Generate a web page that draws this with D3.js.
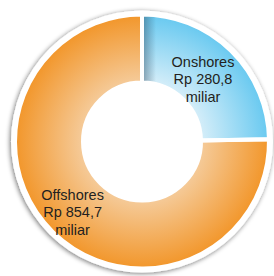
<!DOCTYPE html>
<html>
<head>
<meta charset="utf-8">
<script src="https://cdn.jsdelivr.net/npm/d3@7"></script>
<style>
  html, body { margin:0; padding:0; background:#fff; }
  svg { display:block; }
  text { font-family: "Liberation Sans", Arial, Helvetica, sans-serif; fill:#231f20; }
</style>
</head>
<body>
<div id="chart"></div>
<script>
// data
const categories = ["Onshores", "Offshores"];
const values = [280.8, 854.7];
const valueLabels = ["Rp 280,8", "Rp 854,7"];
const unitLabel = "miliar";

const width = 274, height = 276;
const cx = 142, cy = 141.5;
const rOuter = 127, rInner = 59;

// colour pairs: [near hole, outer rim]
const colors = {
  Onshores:  ["#d6eef9", "#68c9f0"],
  Offshores: ["#f5cb9a", "#f2962a"]
};

const svg = d3.select("#chart").append("svg")
  .attr("width", width).attr("height", height);

const defs = svg.append("defs");

const shadow = defs.append("filter").attr("id", "shadow")
  .attr("x", "-20%").attr("y", "-20%").attr("width", "140%").attr("height", "140%");
shadow.append("feGaussianBlur").attr("in", "SourceAlpha").attr("stdDeviation", 2.5).attr("result", "b");
shadow.append("feOffset").attr("in", "b").attr("dx", -1).attr("dy", 1).attr("result", "o");
shadow.append("feComponentTransfer").attr("in", "o").attr("result", "s")
  .append("feFuncA").attr("type", "linear").attr("slope", 0.55);
const merge = shadow.append("feMerge");
merge.append("feMergeNode").attr("in", "s");
merge.append("feMergeNode").attr("in", "SourceGraphic");

// gradients live in the translated group's space, so centre is 0,0
categories.forEach(c => {
  const g = defs.append("radialGradient")
    .attr("id", "grad-" + c)
    .attr("gradientUnits", "userSpaceOnUse")
    .attr("cx", 0).attr("cy", 0).attr("r", rOuter);
  g.append("stop").attr("offset", rInner / rOuter).attr("stop-color", colors[c][0]);
  g.append("stop").attr("offset", 1).attr("stop-color", colors[c][1]);
});

// dark edge inside the blue slice
const edge = defs.append("linearGradient").attr("id", "edge")
  .attr("gradientUnits", "userSpaceOnUse")
  .attr("x1", 0).attr("y1", 0).attr("x2", 14).attr("y2", 0);
edge.append("stop").attr("offset", 0).attr("stop-color", "#2d4a60").attr("stop-opacity", 0.5);
edge.append("stop").attr("offset", 1).attr("stop-color", "#2d4a60").attr("stop-opacity", 0);

// white disc with soft grey shadow behind the ring
svg.append("circle")
  .attr("cx", cx).attr("cy", cy).attr("r", rOuter + 4)
  .attr("fill", "#fff")
  .attr("filter", "url(#shadow)");

const pie = d3.pie().sort(null).value(d => d.value);
const rows = categories.map((c, i) => ({ name: c, value: values[i], label: valueLabels[i] }));
const arcs = pie(rows);

const arc = d3.arc().innerRadius(rInner).outerRadius(rOuter);

const g = svg.append("g").attr("transform", `translate(${cx},${cy})`);

g.selectAll("path.slice")
  .data(arcs)
  .join("path")
  .attr("class", "slice")
  .attr("d", arc)
  .attr("fill", d => `url(#grad-${d.data.name})`);

// inner shading along the left edge of the onshore slice
defs.append("clipPath").attr("id", "clipOn")
  .append("path")
  .attr("d", arc(arcs[0]));
g.append("rect")
  .attr("x", 0).attr("y", -rOuter).attr("width", 20).attr("height", rOuter)
  .attr("fill", "url(#edge)")
  .attr("clip-path", "url(#clipOn)");

// white gap lines around the slices
g.selectAll("path.gap")
  .data(arcs)
  .join("path")
  .attr("class", "gap")
  .attr("d", arc)
  .attr("fill", "none")
  .attr("stroke", "#fff")
  .attr("stroke-width", 4);

// labels
const labelRadius = [87, 99];
const labels = g.selectAll("text.lbl")
  .data(arcs)
  .join("text")
  .attr("class", "lbl")
  .attr("font-size", 14.5)
  .attr("transform", (d, i) => {
    const [x, y] = d3.arc().innerRadius(labelRadius[i]).outerRadius(labelRadius[i]).centroid(d);
    return `translate(${x},${y})`;
  });

labels.selectAll("tspan")
  .data(d => [d.data.name, d.data.label, unitLabel])
  .join("tspan")
  .attr("x", 0)
  .attr("y", (d, i) => (i - 1) * 17.5 + 5)
  .style("text-anchor", "middle")
  .text(d => d);
</script>
</body>
</html>
